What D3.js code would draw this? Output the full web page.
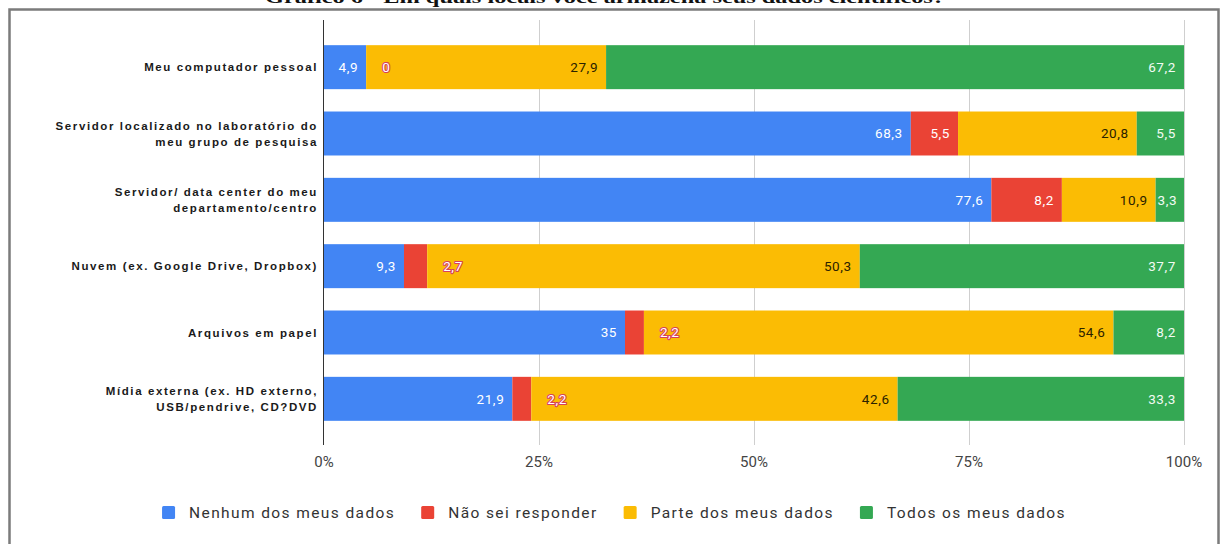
<!DOCTYPE html>
<html>
<head>
<meta charset="utf-8">
<script src="https://cdn.jsdelivr.net/npm/d3@7"></script>
<style>
  html, body { margin: 0; padding: 0; background: #fff; }
  svg { display: block; }
</style>
</head>
<body>
<svg id="chart" width="1221" height="544"></svg>
<script>
// Storage locations (rows); "\n" splits a label over two lines
const categories = [
  "Meu computador pessoal",
  "Servidor localizado no laboratório do\nmeu grupo de pesquisa",
  "Servidor/ data center do meu\ndepartamento/centro",
  "Nuvem (ex. Google Drive, Dropbox)",
  "Arquivos em papel",
  "Mídia externa (ex. HD externo,\nUSB/pendrive, CD?DVD"
];

// Series, in stacking order (percent of respondents)
const seriesNames = ["Nenhum dos meus dados", "Não sei responder", "Parte dos meus dados", "Todos os meus dados"];
const nenhum = [4.9, 68.3, 77.6, 9.3, 35, 21.9];
const naoSei = [0, 5.5, 8.2, 2.7, 2.2, 2.2];
const parte  = [27.9, 20.8, 10.9, 50.3, 54.6, 42.6];
const todos  = [67.2, 5.5, 3.3, 37.7, 8.2, 33.3];

const tickValues = [0, 0.25, 0.5, 0.75, 1];
const tickLabels = ["0%", "25%", "50%", "75%", "100%"];

const titleText = "Gráfico 6 - Em quais locais você armazena seus dados científicos?";

const colors = ["#4285F4", "#EA4335", "#FBBC04", "#34A853"];
const labelFill = ["#ffffff", "#ffffff", "#2a2200", "#f2fbf4"];

const rows = categories.map((c, i) => ({
  category: c,
  [seriesNames[0]]: nenhum[i],
  [seriesNames[1]]: naoSei[i],
  [seriesNames[2]]: parte[i],
  [seriesNames[3]]: todos[i]
}));

const stack = d3.stack().keys(seriesNames).offset(d3.stackOffsetExpand);
const layers = stack(rows);

const svg = d3.select("#chart");

// Page title above the frame
svg.append("text")
  .attr("x", 605).attr("y", 3)
  .attr("text-anchor", "middle")
  .attr("font-family", "'Liberation Serif', 'DejaVu Serif', serif")
  .attr("font-weight", "bold")
  .attr("font-size", 17)
  .attr("textLength", 680)
  .attr("lengthAdjust", "spacingAndGlyphs")
  .attr("fill", "#111")
  .text(titleText);

// Frame around the chart
svg.append("rect")
  .attr("x", 9.5).attr("y", 9.5)
  .attr("width", 1209).attr("height", 560)
  .attr("fill", "#fff")
  .attr("stroke", "#7b7b7b")
  .attr("stroke-width", 2.5);

const x = d3.scaleLinear().domain([0, 1]).range([324, 1184]);
const y = d3.scaleBand()
  .domain(categories)
  .range([34, 432])
  .paddingInner(0.337)
  .paddingOuter(0.1685);

const gridTop = 20, gridBottom = 445;

// Vertical gridlines
svg.append("g")
  .selectAll("line")
  .data(tickValues.slice(1))
  .join("line")
  .attr("x1", d => Math.round(x(d)) + 0.5)
  .attr("x2", d => Math.round(x(d)) + 0.5)
  .attr("y1", gridTop).attr("y2", gridBottom)
  .attr("stroke", "#cfcfcf")
  .attr("stroke-width", 1);

// Stacked bars
const gLayers = svg.append("g")
  .selectAll("g")
  .data(layers)
  .join("g")
  .attr("fill", (d, i) => colors[i]);

gLayers.selectAll("rect")
  .data(d => d.map(s => ({ s, cat: s.data.category })))
  .join("rect")
  .attr("x", d => x(d.s[0]))
  .attr("y", d => y(d.cat))
  .attr("width", d => Math.max(0, x(d.s[1]) - x(d.s[0])))
  .attr("height", y.bandwidth());

// Baseline at 0%
svg.append("line")
  .attr("x1", x(0) - 0.5).attr("x2", x(0) - 0.5)
  .attr("y1", gridTop).attr("y2", gridBottom)
  .attr("stroke", "#333")
  .attr("stroke-width", 1);

// Value labels
const fmt = v => String(v).replace(".", ",");
const gLabels = svg.append("g")
  .attr("font-family", "Roboto, 'Liberation Sans', Arial, sans-serif")
  .attr("font-size", 13.5)
  .attr("letter-spacing", 0.6);

layers.forEach((layer, si) => {
  const source = [nenhum, naoSei, parte, todos][si];
  layer.forEach((s, ri) => {
    const x0 = x(s[0]), x1 = x(s[1]);
    const cy = y(categories[ri]) + y.bandwidth() / 2;
    const t = gLabels.append("text")
      .attr("y", cy)
      .attr("dy", "0.37em")
      .text(fmt(source[ri]));
    const w = t.node().getComputedTextLength();
    if (w + 8 <= x1 - x0) {
      t.attr("x", Math.max(x1 - 8 - w, x0 + 2))
        .attr("fill", labelFill[si]);
    } else {
      // too narrow: label sits just past the segment, outlined in the series colour
      t.attr("x", x1 + 16)
        .attr("fill", "#ffffff")
        .attr("stroke", "#d6405c")
        .attr("stroke-width", 2.2)
        .attr("paint-order", "stroke")
        .attr("stroke-linejoin", "round");
    }
  });
});

// Category labels
const gCats = svg.append("g")
  .attr("font-family", "'Liberation Sans', Arial, sans-serif")
  .attr("font-weight", "bold")
  .attr("font-size", 11.5)
  .attr("letter-spacing", 1.6)
  .attr("fill", "#1a1a1a")
  .attr("text-anchor", "end");

categories.forEach(c => {
  const lines = c.split("\n");
  const cy = y(c) + y.bandwidth() / 2;
  const t = gCats.append("text").attr("x", 318).attr("y", cy);
  lines.forEach((ln, i) => {
    t.append("tspan")
      .attr("x", 318)
      .attr("y", cy + (i - (lines.length - 1) / 2) * 16)
      .attr("dy", "0.36em")
      .text(ln);
  });
});

// X axis tick labels
svg.append("g")
  .attr("font-family", "Roboto, 'Liberation Sans', Arial, sans-serif")
  .attr("font-size", 15)
  .attr("fill", "#444")
  .attr("text-anchor", "middle")
  .selectAll("text")
  .data(tickValues)
  .join("text")
  .attr("x", d => x(d))
  .attr("y", 467)
  .text((d, i) => tickLabels[i]);

// Legend
const legend = svg.append("g")
  .attr("font-family", "Roboto, 'Liberation Sans', Arial, sans-serif")
  .attr("font-size", 15.5)
  .attr("letter-spacing", 1.4)
  .attr("fill", "#333");

const items = seriesNames.map((name, i) => {
  const g = legend.append("g");
  g.append("rect")
    .attr("width", 13).attr("height", 13)
    .attr("rx", 1.5)
    .attr("fill", colors[i]);
  const t = g.append("text")
    .attr("x", 27).attr("y", 6.5)
    .attr("dy", "0.36em")
    .text(name);
  return { g, w: 27 + t.node().getComputedTextLength() };
});
const gap = 26;
const total = d3.sum(items, d => d.w) + gap * (items.length - 1);
let lx = 614 - total / 2;
items.forEach(it => {
  it.g.attr("transform", `translate(${lx},506)`);
  lx += it.w + gap;
});
</script>
</body>
</html>
